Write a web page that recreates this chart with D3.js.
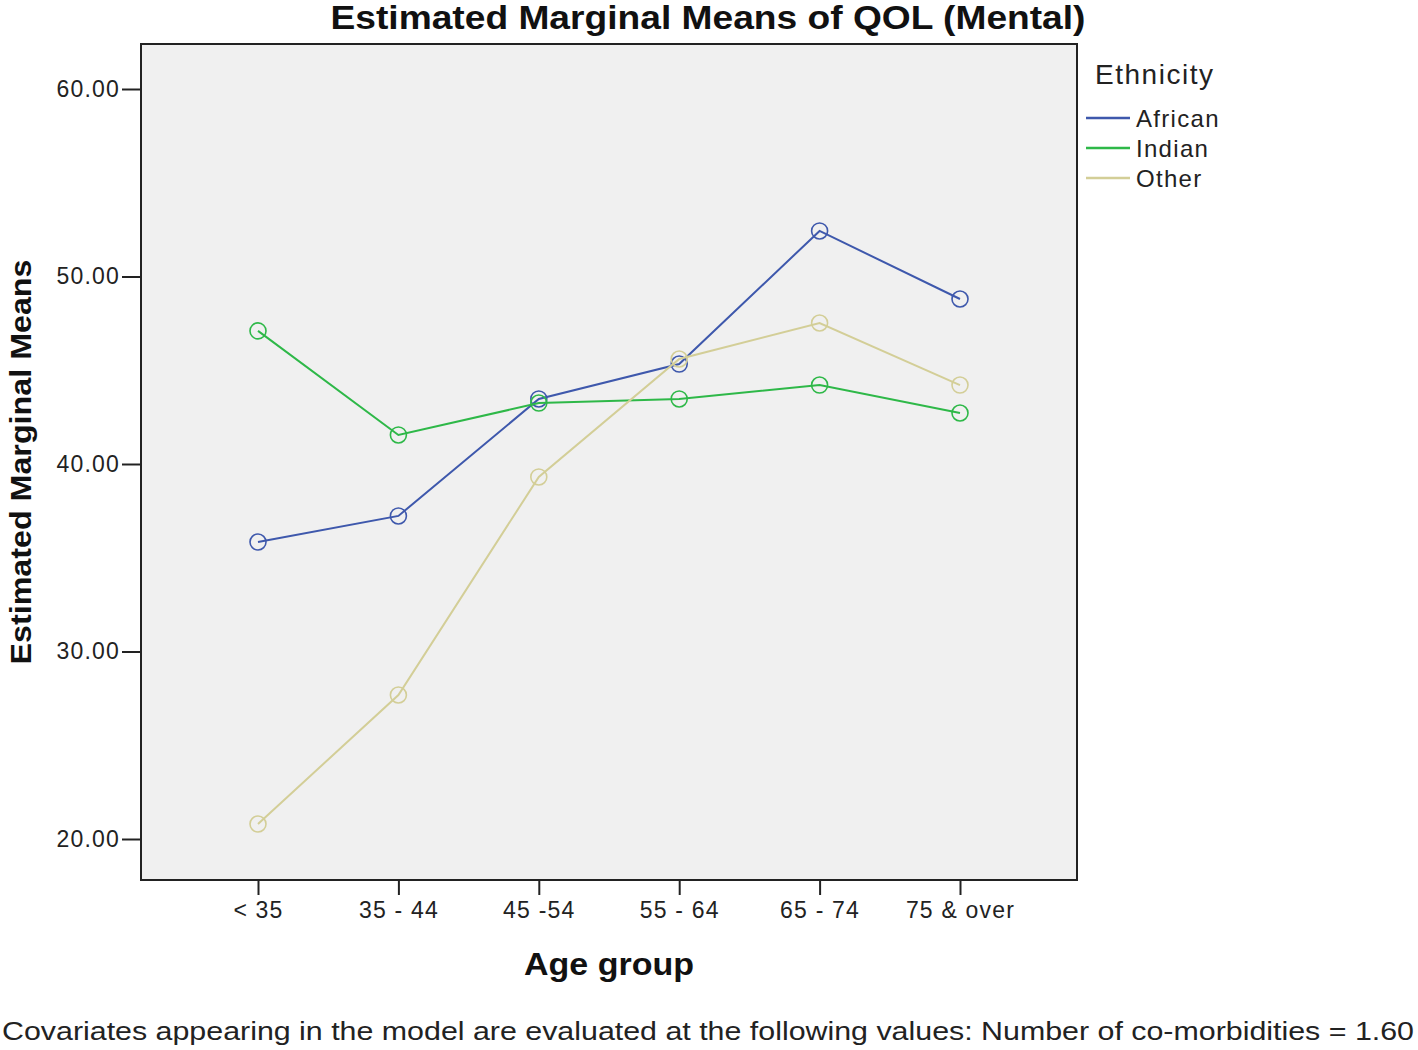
<!DOCTYPE html>
<html><head><meta charset="utf-8">
<script src="https://cdn.jsdelivr.net/npm/d3@7"></script>
<style>body{margin:0;background:#fff;} svg{display:block;}</style>
</head><body>
<script>
const categories = ["< 35", "35 - 44", "45 -54", "55 - 64", "65 - 74", "75 & over"];
const african = [35.84, 37.23, 43.47, 45.33, 52.43, 48.80];
const indian  = [47.10, 41.55, 43.25, 43.47, 44.21, 42.72];
const other   = [20.80, 27.68, 39.31, 45.60, 47.52, 44.21];
const seriesNames = ["African", "Indian", "Other"];
const seriesColors = ["#3E58AC", "#2EB848", "#D3CE97"];
const yTicks = [20, 30, 40, 50, 60];

const W = 1418, H = 1050;
const svg = d3.select("body").append("svg").attr("width", W).attr("height", H);
const font = "Arial, 'Liberation Sans', sans-serif";
const plot = {l: 141, r: 1077, t: 44, b: 880};

svg.append("rect").attr("x", plot.l).attr("y", plot.t)
  .attr("width", plot.r - plot.l).attr("height", plot.b - plot.t)
  .attr("fill", "#f0f0f0").attr("stroke", "#222").attr("stroke-width", 2);

const x = d3.scalePoint().domain(categories).range([258, 960]);
const y = d3.scaleLinear().domain([20, 60]).range([839, 89]);

// Y axis
const yAxis = svg.append("g").attr("transform", `translate(${plot.l},0)`)
  .call(d3.axisLeft(y).tickValues(yTicks).tickFormat(d3.format(".2f")).tickSize(19).tickPadding(2));
yAxis.select(".domain").remove();
yAxis.selectAll("line").attr("stroke", "#222").attr("stroke-width", 2);
yAxis.selectAll("text").attr("font-family", font).attr("font-size", 23).attr("fill", "#222")
  .attr("letter-spacing", 1.2);

// X axis
const xAxis = svg.append("g").attr("transform", `translate(0,${plot.b})`)
  .call(d3.axisBottom(x).tickSize(15).tickPadding(7));
xAxis.select(".domain").remove();
xAxis.selectAll("line").attr("stroke", "#222").attr("stroke-width", 2);
xAxis.selectAll("text").attr("font-family", font).attr("font-size", 23).attr("fill", "#222")
  .attr("letter-spacing", 1.2);

const data = [african, indian, other];
const line = d3.line().x((d, i) => x(categories[i])).y(d => y(d));
data.forEach((vals, si) => {
  const g = svg.append("g");
  g.append("path").datum(vals).attr("d", line).attr("fill", "none")
    .attr("stroke", seriesColors[si]).attr("stroke-width", 2);
  g.selectAll("circle").data(vals).join("circle")
    .attr("cx", (d, i) => x(categories[i])).attr("cy", d => y(d)).attr("r", 8)
    .attr("fill", "none").attr("stroke", seriesColors[si]).attr("stroke-width", 1.6);
});

// Title
svg.append("text").attr("x", 708).attr("y", 29).attr("text-anchor", "middle")
  .attr("font-family", font).attr("font-weight", "bold").attr("font-size", 33)
  .attr("textLength", 755).attr("lengthAdjust", "spacingAndGlyphs")
  .attr("fill", "#111").text("Estimated Marginal Means of QOL (Mental)");

// Y label
svg.append("text").attr("transform", "translate(31,462) rotate(-90)").attr("text-anchor", "middle")
  .attr("font-family", font).attr("font-weight", "bold").attr("font-size", 30)
  .attr("textLength", 405).attr("lengthAdjust", "spacingAndGlyphs")
  .attr("fill", "#111").text("Estimated Marginal Means");

// X label
svg.append("text").attr("x", 609).attr("y", 975).attr("text-anchor", "middle")
  .attr("font-family", font).attr("font-weight", "bold").attr("font-size", 32)
  .attr("textLength", 170).attr("lengthAdjust", "spacingAndGlyphs")
  .attr("fill", "#111").text("Age group");

// Legend
svg.append("text").attr("x", 1095).attr("y", 84)
  .attr("font-family", font).attr("font-size", 28).attr("fill", "#222")
  .attr("textLength", 118).attr("lengthAdjust", "spacing").text("Ethnicity");
seriesNames.forEach((n, i) => {
  const yy = 118 + i * 30;
  svg.append("line").attr("x1", 1086).attr("x2", 1130).attr("y1", yy).attr("y2", yy)
    .attr("stroke", seriesColors[i]).attr("stroke-width", 2.5);
  svg.append("text").attr("x", 1136).attr("y", yy + 9)
    .attr("font-family", font).attr("font-size", 24).attr("fill", "#222")
    .attr("letter-spacing", 1.3).text(n);
});

// Footnote
svg.append("text").attr("x", 2).attr("y", 1040)
  .attr("font-family", font).attr("font-size", 26).attr("fill", "#222")
  .attr("textLength", 1412).attr("lengthAdjust", "spacingAndGlyphs")
  .text("Covariates appearing in the model are evaluated at the following values: Number of co-morbidities = 1.60");
</script>
</body></html>
